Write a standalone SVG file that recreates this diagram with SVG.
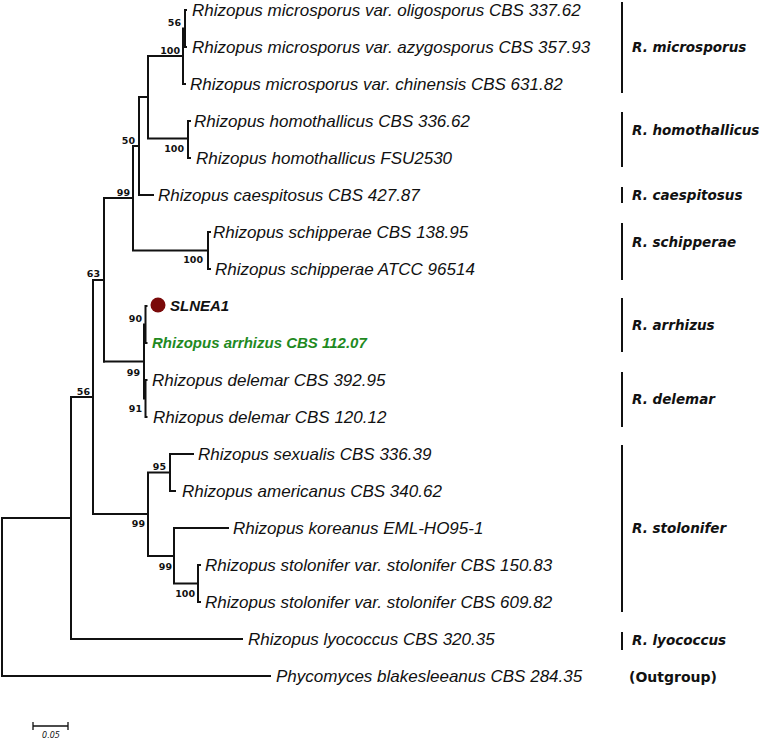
<svg xmlns="http://www.w3.org/2000/svg" width="762" height="739" viewBox="0 0 762 739">
<style>
.br{stroke:#111;stroke-width:2;fill:none;stroke-linecap:square}
.tx{font-family:"Liberation Sans",Arial,sans-serif;font-style:italic;font-size:17px;fill:#111}
.bs{font-family:"DejaVu Sans",Verdana,sans-serif;font-weight:bold;font-size:9.5px;fill:#111;text-anchor:end}
.cl{font-family:"DejaVu Sans",Verdana,sans-serif;font-weight:bold;font-style:italic;font-size:13.5px;fill:#111}
.bk{stroke:#111;stroke-width:2}
</style>
<rect width="762" height="739" fill="#fff"/>
<g id="connectors">
<path class="br" d="M185,10V47M185,10h1M185,47h1M183,28.5h2M183,28.5V84h2"/>
<path class="br" d="M188,121V158h2M188,121h2"/>
<path class="br" d="M148,56H183M148,56V138.5H188"/>
<path class="br" d="M139,97H148M139,97V195H153"/>
<path class="br" d="M208,232V269h2M208,232h2"/>
<path class="br" d="M133,146H139M133,146V250.5H208"/>
<path class="br" d="M145.5,306V343h1M145.5,306h1M145.5,380V417h1M145.5,380h1M144,324.5V398.5M144,324.5h1.5M144,398.5h1.5M104,361.5H144"/>
<path class="br" d="M104,198H133M104,198V361.5"/>
<path class="br" d="M170,454V491H175M170,454H193"/>
<path class="br" d="M198,565V602h2M198,565h2"/>
<path class="br" d="M174,528H228M174,528V583.5H198"/>
<path class="br" d="M148,472.5H170M148,472.5V556H174"/>
<path class="br" d="M93,280H104M93,280V514H148"/>
<path class="br" d="M71,397H93M71,397V639H242"/>
<path class="br" d="M2,518H71M2,518V676H270"/>
</g>
<g id="bootstrap">
<text class="bs" x="181" y="26">56</text>
<text class="bs" x="180" y="54">100</text>
<text class="bs" x="184" y="152">100</text>
<text class="bs" x="135" y="144">50</text>
<text class="bs" x="130" y="196">99</text>
<text class="bs" x="203" y="263">100</text>
<text class="bs" x="100" y="277">63</text>
<text class="bs" x="142" y="322">90</text>
<text class="bs" x="140" y="376">99</text>
<text class="bs" x="142" y="412">91</text>
<text class="bs" x="90" y="395">56</text>
<text class="bs" x="166" y="470">95</text>
<text class="bs" x="145" y="527">99</text>
<text class="bs" x="172" y="570">99</text>
<text class="bs" x="195" y="597">100</text>
</g>
<g id="taxa">
<g id="t1"><text class="tx" x="192" y="16">Rhizopus microsporus var. oligosporus CBS 337.62</text></g>
<g id="t2"><text class="tx" x="192" y="53">Rhizopus microsporus var. azygosporus CBS 357.93</text></g>
<g id="t3"><text class="tx" x="190" y="90">Rhizopus microsporus var. chinensis CBS 631.82</text></g>
<g id="t4"><text class="tx" x="194" y="127">Rhizopus homothallicus CBS 336.62</text></g>
<g id="t5"><text class="tx" x="196" y="164">Rhizopus homothallicus FSU2530</text></g>
<g id="t6"><text class="tx" x="158" y="201">Rhizopus caespitosus CBS 427.87</text></g>
<g id="t7"><text class="tx" x="213" y="238">Rhizopus schipperae CBS 138.95</text></g>
<g id="t8"><text class="tx" x="215" y="275">Rhizopus schipperae ATCC 96514</text></g>
<g id="t9"><circle cx="158" cy="305" r="7.5" fill="#7a0a0a"/><text x="170" y="311" font-family="Liberation Sans, Arial, sans-serif" font-weight="bold" font-style="italic" font-size="15" fill="#111">SLNEA1</text></g>
<g id="t10"><text x="152" y="348" font-family="Liberation Sans, Arial, sans-serif" font-weight="bold" font-style="italic" font-size="15" fill="#1f8a1f">Rhizopus arrhizus CBS 112.07</text></g>
<g id="t11"><text class="tx" x="152" y="386">Rhizopus delemar CBS 392.95</text></g>
<g id="t12"><text class="tx" x="153" y="423">Rhizopus delemar CBS 120.12</text></g>
<g id="t13"><text class="tx" x="198" y="460">Rhizopus sexualis CBS 336.39</text></g>
<g id="t14"><text class="tx" x="182" y="497">Rhizopus americanus CBS 340.62</text></g>
<g id="t15"><text class="tx" x="233" y="534">Rhizopus koreanus EML-HO95-1</text></g>
<g id="t16"><text class="tx" x="205" y="571">Rhizopus stolonifer var. stolonifer CBS 150.83</text></g>
<g id="t17"><text class="tx" x="205" y="608">Rhizopus stolonifer var. stolonifer CBS 609.82</text></g>
<g id="t18"><text class="tx" x="248" y="645">Rhizopus lyococcus CBS 320.35</text></g>
<g id="t19"><text class="tx" x="276" y="682">Phycomyces blakesleeanus CBS 284.35</text></g>
</g>
<g id="clades">
<g id="c1"><line class="bk" x1="622" y1="2" x2="622" y2="93"/><text class="cl" x="632" y="52">R. microsporus</text></g>
<g id="c2"><line class="bk" x1="622" y1="112" x2="622" y2="167"/><text class="cl" x="632" y="135">R. homothallicus</text></g>
<g id="c3"><line class="bk" x1="622" y1="187" x2="622" y2="203"/><text class="cl" x="632" y="200">R. caespitosus</text></g>
<g id="c4"><line class="bk" x1="622" y1="223" x2="622" y2="280"/><text class="cl" x="632" y="247">R. schipperae</text></g>
<g id="c5"><line class="bk" x1="622" y1="298" x2="622" y2="352"/><text class="cl" x="632" y="330">R. arrhizus</text></g>
<g id="c6"><line class="bk" x1="622" y1="372" x2="622" y2="427"/><text class="cl" x="632" y="404">R. delemar</text></g>
<g id="c7"><line class="bk" x1="622" y1="445" x2="622" y2="612"/><text class="cl" x="632" y="533">R. stolonifer</text></g>
<g id="c8"><line class="bk" x1="622" y1="632" x2="622" y2="650"/><text class="cl" x="632" y="645">R. lyococcus</text></g>
<g id="c9"><text x="629" y="682" font-family="DejaVu Sans, Verdana, sans-serif" font-weight="bold" font-size="14" fill="#111">(Outgroup)</text></g>
</g>
<g id="scale">
<path d="M33,726H68M33,722V730M68,722V730" stroke="#111" stroke-width="1.3" fill="none"/>
<text x="51" y="738" text-anchor="middle" font-family="DejaVu Sans, Verdana, sans-serif" font-style="italic" font-size="8" fill="#111">0.05</text>
</g>
</svg>
